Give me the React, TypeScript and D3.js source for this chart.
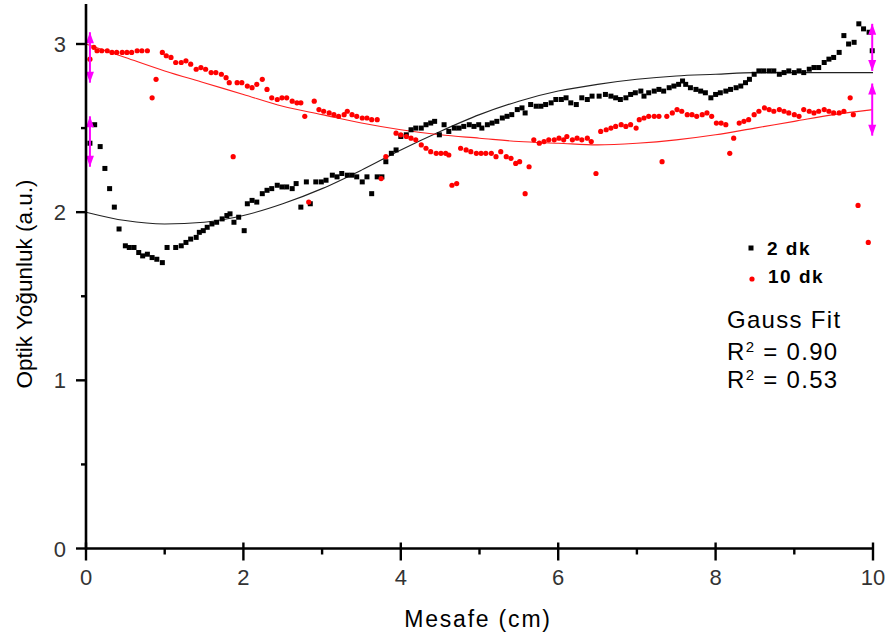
import React from "react";
import * as d3 from "d3";

// ---- Data ----
const blackX = [0.05,0.11,0.18,0.24,0.30,0.36,0.42,0.50,0.55,0.61,0.67,0.72,0.78,0.84,0.90,0.97,1.03,1.14,1.21,1.27,1.33,1.40,1.44,1.49,1.54,1.60,1.66,1.73,1.79,1.83,1.88,1.94,2.01,2.05,2.11,2.17,2.24,2.30,2.36,2.43,2.49,2.55,2.62,2.67,2.73,2.80,2.85,2.92,2.99,3.05,3.13,3.19,3.25,3.32,3.38,3.44,3.51,3.57,3.63,3.70,3.76,3.81,3.88,3.94,4.00,4.07,4.13,4.19,4.26,4.32,4.38,4.43,4.49,4.55,4.61,4.68,4.74,4.80,4.87,4.93,4.99,5.03,5.10,5.16,5.22,5.29,5.35,5.41,5.48,5.54,5.58,5.65,5.72,5.78,5.84,5.91,5.97,6.04,6.10,6.16,6.23,6.30,6.37,6.43,6.52,6.60,6.67,6.73,6.79,6.86,6.92,6.98,7.05,7.09,7.15,7.22,7.28,7.34,7.41,7.47,7.53,7.58,7.62,7.68,7.75,7.81,7.87,7.94,8.00,8.06,8.13,8.19,8.26,8.32,8.38,8.43,8.49,8.55,8.61,8.68,8.74,8.81,8.87,8.93,9.00,9.06,9.12,9.19,9.25,9.31,9.38,9.44,9.50,9.57,9.63,9.69,9.76,9.82,9.88,9.95,9.99];
const blackY = [2.41,2.52,2.39,2.26,2.14,2.03,1.90,1.80,1.79,1.79,1.76,1.74,1.75,1.73,1.72,1.70,1.79,1.79,1.80,1.82,1.84,1.85,1.88,1.89,1.91,1.93,1.94,1.96,1.98,1.99,1.94,1.97,1.89,2.05,2.07,2.06,2.11,2.13,2.14,2.16,2.15,2.15,2.14,2.17,2.03,2.18,2.05,2.18,2.18,2.19,2.22,2.21,2.23,2.22,2.22,2.21,2.18,2.21,2.11,2.21,2.21,2.30,2.35,2.37,2.45,2.46,2.49,2.50,2.50,2.52,2.53,2.54,2.46,2.52,2.48,2.50,2.50,2.51,2.52,2.51,2.52,2.50,2.52,2.53,2.54,2.56,2.57,2.58,2.61,2.62,2.59,2.64,2.63,2.63,2.64,2.65,2.67,2.67,2.68,2.65,2.64,2.68,2.67,2.69,2.69,2.70,2.69,2.68,2.67,2.68,2.70,2.71,2.72,2.69,2.71,2.72,2.73,2.72,2.74,2.75,2.76,2.78,2.76,2.74,2.73,2.72,2.71,2.68,2.70,2.71,2.72,2.73,2.74,2.75,2.77,2.79,2.82,2.84,2.84,2.84,2.84,2.82,2.83,2.84,2.83,2.84,2.83,2.85,2.86,2.86,2.89,2.91,2.92,2.95,3.05,3.00,3.01,3.12,3.09,3.07,2.96];

const redX = [0.05,0.10,0.14,0.20,0.27,0.33,0.39,0.46,0.52,0.58,0.65,0.71,0.78,0.84,0.89,0.97,1.02,1.08,1.14,1.21,1.27,1.33,1.40,1.46,1.52,1.59,1.65,1.72,1.78,1.82,1.87,1.92,1.98,2.05,2.11,2.17,2.24,2.30,2.36,2.43,2.49,2.55,2.62,2.68,2.73,2.78,2.83,2.90,2.96,3.02,3.09,3.15,3.21,3.28,3.32,3.38,3.44,3.51,3.57,3.63,3.70,3.75,3.81,3.94,4.00,4.07,4.13,4.19,4.26,4.32,4.38,4.45,4.51,4.57,4.61,4.65,4.71,4.76,4.83,4.89,4.96,5.02,5.08,5.15,5.21,5.27,5.34,5.40,5.46,5.51,5.58,5.63,5.69,5.76,5.82,5.88,5.95,6.01,6.07,6.11,6.18,6.24,6.30,6.37,6.42,6.48,6.54,6.61,6.67,6.73,6.80,6.86,6.92,6.99,7.03,7.09,7.15,7.22,7.28,7.32,7.38,7.45,7.51,7.57,7.64,7.70,7.76,7.83,7.89,7.95,8.01,8.07,8.13,8.18,8.23,8.30,8.36,8.42,8.49,8.55,8.62,8.68,8.74,8.81,8.87,8.93,9.00,9.06,9.12,9.19,9.25,9.31,9.38,9.44,9.50,9.57,9.63,9.71,9.75,9.81,9.94];
const redY = [2.91,2.98,2.96,2.96,2.96,2.95,2.95,2.95,2.95,2.95,2.96,2.96,2.96,2.68,2.79,2.95,2.93,2.92,2.89,2.89,2.90,2.88,2.85,2.86,2.85,2.83,2.83,2.82,2.80,2.77,2.33,2.77,2.77,2.75,2.74,2.76,2.79,2.73,2.68,2.67,2.68,2.68,2.66,2.65,2.65,2.57,2.06,2.66,2.61,2.60,2.59,2.58,2.57,2.58,2.60,2.58,2.57,2.56,2.56,2.55,2.55,2.20,2.33,2.47,2.46,2.45,2.44,2.43,2.40,2.38,2.36,2.35,2.35,2.35,2.34,2.16,2.17,2.38,2.37,2.36,2.35,2.35,2.35,2.35,2.33,2.36,2.33,2.32,2.29,2.30,2.11,2.27,2.43,2.41,2.42,2.43,2.43,2.44,2.43,2.45,2.43,2.44,2.43,2.44,2.42,2.23,2.48,2.49,2.50,2.51,2.52,2.51,2.52,2.50,2.55,2.56,2.57,2.57,2.57,2.30,2.57,2.59,2.61,2.60,2.58,2.58,2.57,2.58,2.59,2.57,2.53,2.53,2.52,2.35,2.44,2.53,2.54,2.55,2.58,2.60,2.62,2.61,2.60,2.61,2.60,2.59,2.58,2.57,2.61,2.60,2.59,2.60,2.61,2.60,2.59,2.59,2.60,2.68,2.58,2.04,1.82];

// Gauss fit curves
const fitX = [0,0.5,1,1.5,2,2.5,3,3.5,4,4.5,5,5.5,6,6.5,7,7.5,8,8.5,9,9.5,10];
const blackFitY = [2.00,1.95,1.93,1.94,1.98,2.05,2.14,2.25,2.37,2.48,2.58,2.66,2.72,2.76,2.79,2.81,2.82,2.83,2.83,2.83,2.83];
const redFitY = [3.00,2.92,2.84,2.77,2.70,2.63,2.58,2.53,2.49,2.46,2.44,2.42,2.41,2.40,2.41,2.43,2.46,2.50,2.54,2.58,2.61];

// Magenta error bars at the ends of the fits
const errX = [0.05,0.05,9.99,9.99];
const errY = [2.92,2.42,2.98,2.61];
const errE = [0.15,0.15,0.14,0.155];

const xTicksMajor = [0,2,4,6,8,10];
const xTicksMinor = [1,3,5,7,9];
const yTicksMajor = [0,1,2,3];
const yTicksMinor = [0.5,1.5,2.5];

const legendLabels = ["2 dk","10 dk"];
const fitTitle = "Gauss Fit";
const r2Values = ["0.90","0.53"];

const FONT = "'Liberation Sans', Arial, Helvetica, sans-serif";

export default function App() {
  const W = 889, H = 644;
  const x = d3.scaleLinear().domain([0,10]).range([86,873]);
  const y = d3.scaleLinear().domain([0,3]).range([548.5,44]);
  const line = d3.line<[number,number]>().x(d => x(d[0])).y(d => y(d[1])).curve(d3.curveMonotoneX);
  const blackFit = fitX.map((v,i) => [v, blackFitY[i]] as [number,number]);
  const redFit = fitX.map((v,i) => [v, redFitY[i]] as [number,number]);
  const x0 = x(0), yb = y(0);
  const axisW = 2.6;
  const tickColor = "#000";
  const labelColor = "#333";

  return (
    <svg width={W} height={H} style={{position:"absolute", left:0, top:0, background:"#fff"}} fontFamily={FONT}>
      {/* fit lines */}
      <path d={line(blackFit) || ""} fill="none" stroke="#222" strokeWidth={1.1} />
      <path d={line(redFit) || ""} fill="none" stroke="#ff2020" strokeWidth={1.1} />

      {/* data */}
      {blackX.map((v,i) => (
        <rect key={"b"+i} x={x(v)-2.5} y={y(blackY[i])-2.5} width={5} height={5} fill="#000" />
      ))}
      {redX.map((v,i) => (
        <circle key={"r"+i} cx={x(v)} cy={y(redY[i])} r={2.6} fill="#ff0000" />
      ))}

      {/* error bars with arrow heads */}
      {errX.map((v,i) => {
        const cx = x(v), top = y(errY[i]+errE[i]), bot = y(errY[i]-errE[i]);
        return (
          <g key={"e"+i} fill="#ff00ff" stroke="none">
            <line x1={cx} x2={cx} y1={top} y2={bot} stroke="#ff00ff" strokeWidth={2} />
            <path d={`M${cx},${top} L${cx-4},${top+11} L${cx+4},${top+11} Z`} />
            <path d={`M${cx},${bot} L${cx-4},${bot-11} L${cx+4},${bot-11} Z`} />
          </g>
        );
      })}

      {/* axes */}
      <line x1={x0} x2={x0} y1={4} y2={yb+1} stroke="#000" strokeWidth={axisW} />
      <line x1={x0-1} x2={x(10)+1} y1={yb} y2={yb} stroke="#000" strokeWidth={axisW} />
      {yTicksMajor.map(t => (
        <g key={"ym"+t}>
          <line x1={x0-10} x2={x0} y1={y(t)} y2={y(t)} stroke={tickColor} strokeWidth={2.4} />
          <text x={66} y={y(t)+8} textAnchor="end" fontSize={22} fill={labelColor}>{t}</text>
        </g>
      ))}
      {yTicksMinor.map(t => (
        <line key={"yn"+t} x1={x0-5} x2={x0} y1={y(t)} y2={y(t)} stroke={tickColor} strokeWidth={2.4} />
      ))}
      {xTicksMajor.map(t => (
        <g key={"xm"+t}>
          <line x1={x(t)} x2={x(t)} y1={yb-6} y2={yb+12} stroke={tickColor} strokeWidth={2.4} />
          <text x={x(t)} y={585} textAnchor="middle" fontSize={22} fill={labelColor}>{t}</text>
        </g>
      ))}
      {xTicksMinor.map(t => (
        <line key={"xn"+t} x1={x(t)} x2={x(t)} y1={yb} y2={yb+6} stroke={tickColor} strokeWidth={2.4} />
      ))}

      {/* axis titles */}
      <text x={478} y={627} textAnchor="middle" fontSize={23} fill="#000" letterSpacing={1.8}>Mesafe (cm)</text>
      <text transform="translate(32,284) rotate(-90)" textAnchor="middle" fontSize={22.5} fill="#000">Optik Yoğunluk (a.u.)</text>

      {/* legend */}
      <rect x={751-2.5} y={248-2.5} width={5} height={5} fill="#000" />
      <text x={767} y={255} fontSize={19} fontWeight="bold" fill="#000" letterSpacing={1.5}>{legendLabels[0]}</text>
      <circle cx={752} cy={279} r={2.6} fill="#ff0000" />
      <text x={768} y={283} fontSize={19} fontWeight="bold" fill="#000" letterSpacing={1.5}>{legendLabels[1]}</text>

      <text x={727} y={328} fontSize={24} fill="#000" letterSpacing={1.3}>{fitTitle}</text>
      {r2Values.map((v,i) => (
        <text key={"r2"+i} x={727} y={360 + i*28} fontSize={24} fill="#000" letterSpacing={1.3}>
          R<tspan fontSize={15} dy={-8}>2</tspan><tspan dy={8}>{" = " + v}</tspan>
        </text>
      ))}
    </svg>
  );
}
